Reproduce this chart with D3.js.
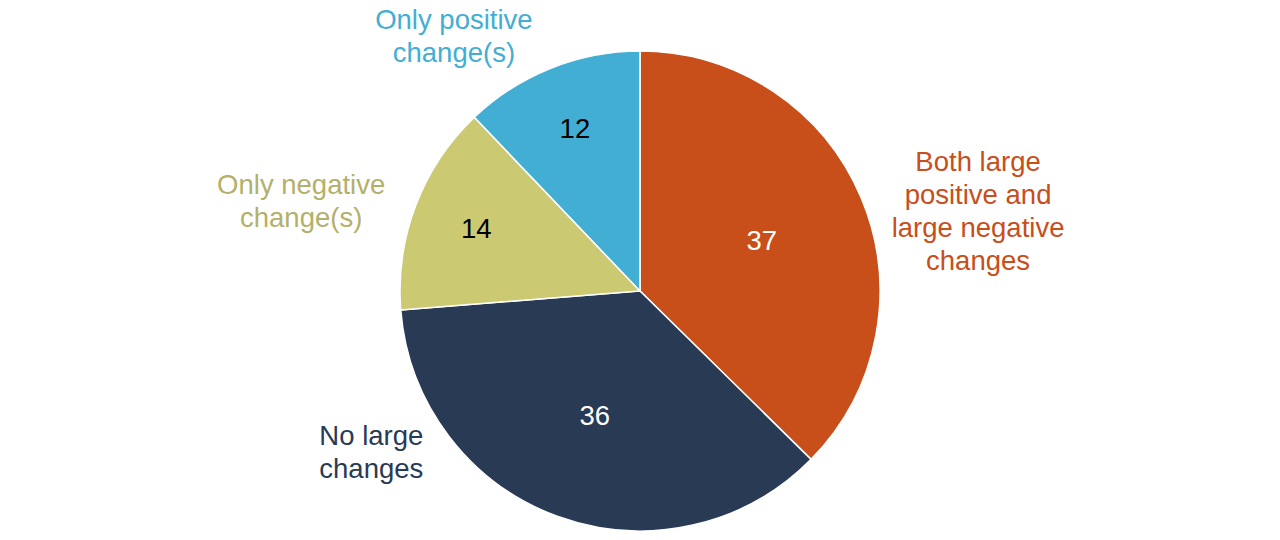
<!DOCTYPE html>
<html>
<head>
<meta charset="utf-8">
<script src="https://cdn.jsdelivr.net/npm/d3@7"></script>
<style>
  html, body { margin: 0; padding: 0; background: #fff; }
  svg { display: block; }
</style>
</head>
<body>
<script>
// pie data, clockwise from 12 o'clock
var categories = [
  'Both large positive and large negative changes',
  'No large changes',
  'Only negative change(s)',
  'Only positive change(s)'
];
var values = [37, 36, 14, 12];

// how each outside label breaks into lines
var labelLines = [
  ['Both large', 'positive and', 'large negative', 'changes'],
  ['No large', 'changes'],
  ['Only negative', 'change(s)'],
  ['Only positive', 'change(s)']
];

var fills = ['#c84e1a', '#293a55', '#ccc973', '#43aed3'];
var labelColors = ['#c84e1a', '#293a55', '#b3b06a', '#43aed3'];
var valueColors = ['#fff', '#fff', '#000', '#000'];

var w = 1280,
    h = 540,
    cx = 640,
    cy = 291,
    radius = 240,
    fontSize = 27.5,
    lineH = 33;

// hand-placed label nudges (vertical), as in the original
var labelDy = [21, 0, 3, -12];

var svg = d3.select('body').append('svg')
  .attr('width', w)
  .attr('height', h)
  .style('font-family', 'Liberation Sans, Arial, sans-serif');

var g = svg.append('g').attr('transform', 'translate(' + cx + ',' + cy + ')');

var pie = d3.pie().sort(null).value(function(d) { return d; });
var arcs = pie(values);

var arc = d3.arc().innerRadius(0).outerRadius(radius);

g.selectAll('.slice')
  .data(arcs)
  .enter()
  .append('path')
    .attr('class', 'slice')
    .attr('d', arc)
    .attr('fill', function(d, i) { return fills[i]; })
    .attr('stroke', '#fff')
    .attr('stroke-width', 1.5);

// value labels: small slices get theirs further out
g.selectAll('.value')
  .data(arcs)
  .enter()
  .append('text')
    .attr('class', 'value')
    .attr('transform', function(d) {
      var r = d.data >= 20 ? radius * 0.55 : radius * 0.73;
      var p = d3.arc().innerRadius(r).outerRadius(r).centroid(d);
      return 'translate(' + p[0] + ',' + p[1] + ')';
    })
    .attr('text-anchor', 'middle')
    .attr('dy', '0.36em')
    .attr('fill', function(d, i) { return valueColors[i]; })
    .style('font-size', fontSize + 'px')
    .text(function(d) { return d.data; });

// category labels outside the pie
var outR = 262;
var maxY = h - cy - 88;

var labels = g.selectAll('.label')
  .data(arcs)
  .enter()
  .append('g')
    .attr('class', 'label');

labels.each(function(d, i) {
  var sel = d3.select(this);
  var a = (d.startAngle + d.endAngle) / 2;
  var x = outR * Math.sin(a),
      y = -outR * Math.cos(a);
  // keep labels off the bottom edge by sliding them round the circle
  if (y > maxY) {
    y = maxY;
    x = (x < 0 ? -1 : 1) * Math.sqrt(outR * outR - y * y);
  }
  y += labelDy[i];

  var lines = labelLines[i];
  var text = sel.append('text')
    .attr('text-anchor', 'middle')
    .attr('fill', labelColors[i])
    .style('font-size', fontSize + 'px');

  lines.forEach(function(line, k) {
    text.append('tspan')
      .attr('x', 0)
      .attr('y', (k - (lines.length - 1) / 2) * lineH)
      .attr('dy', '0.36em')
      .text(line);
  });

  var bw = text.node().getBBox().width;
  var side = x < 0 ? -1 : 1;
  sel.attr('transform', 'translate(' + (x + side * (bw / 2 + 10)) + ',' + y + ')');
});
</script>
</body>
</html>
